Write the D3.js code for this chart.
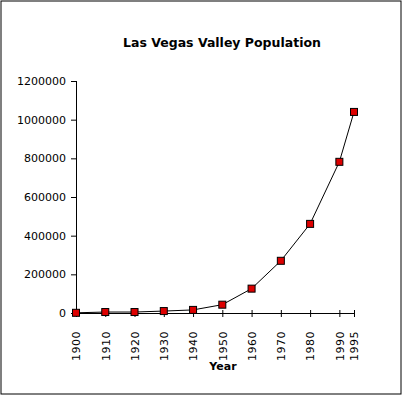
<!DOCTYPE html>
<html>
<head>
<meta charset="utf-8">
<script src="https://cdn.jsdelivr.net/npm/d3@7"></script>
<style>
  body { margin: 0; background: #fff; }
  text { font-family: "DejaVu Sans", sans-serif; fill: #000; }
</style>
</head>
<body>
<div id="chart"></div>
<script>
var years = [1900, 1910, 1920, 1930, 1940, 1950, 1960, 1970, 1980, 1990, 1995];
var population = [1000, 5000, 5000, 10000, 16000, 43000, 126000, 270000, 461000, 782000, 1040000];
var xTicks = [1900, 1910, 1920, 1930, 1940, 1950, 1960, 1970, 1980, 1990, 1995];
var yTicks = [0, 200000, 400000, 600000, 800000, 1000000, 1200000];

var W = 404, H = 397;
var margin = {top: 81, right: 50, bottom: 84, left: 76};
var width = 354 - margin.left;
var height = 313 - margin.top;

var svg = d3.select("#chart").append("svg")
    .attr("width", W)
    .attr("height", H);

svg.append("rect")
    .attr("x", 1).attr("y", 1)
    .attr("width", 400).attr("height", 393)
    .attr("fill", "none")
    .attr("stroke", "#000")
    .attr("stroke-width", 1);

var x = d3.scaleLinear().domain([1900, 1995]).range([0, width]);
var y = d3.scaleLinear().domain([0, 1200000]).range([height, 0]);

var g = svg.append("g")
    .attr("transform", "translate(" + margin.left + "," + margin.top + ")");

// y axis
var yAxis = g.append("g")
    .call(d3.axisLeft(y).tickValues(yTicks).tickSize(5).tickPadding(5).tickFormat(d3.format("d")));
yAxis.selectAll("path").attr("stroke", "#000");
yAxis.selectAll("line").attr("stroke", "#000");
yAxis.selectAll("text").style("font-size", "11px");
yAxis.select(".domain").attr("d", "M0.5," + height + "V0");

// x axis
var xAxis = g.append("g")
    .attr("transform", "translate(0," + height + ")")
    .call(d3.axisBottom(x).tickValues(xTicks).tickSizeInner(3).tickSizeOuter(0).tickFormat(d3.format("d")));
xAxis.selectAll("line").attr("y1", -3).attr("y2", 4).attr("stroke", "#000");
xAxis.selectAll("path").attr("stroke", "#000");
xAxis.selectAll("text")
    .style("font-size", "11px")
    .style("letter-spacing", "0.5px")
    .attr("transform", "rotate(-90)")
    .attr("text-anchor", "end")
    .attr("x", -18)
    .attr("y", 0)
    .attr("dy", "0.35em");

var line = d3.line()
    .x(function(d, i) { return x(years[i]); })
    .y(function(d) { return y(d); });

g.append("path")
    .datum(population)
    .attr("fill", "none")
    .attr("stroke", "#000")
    .attr("stroke-width", 1)
    .attr("d", line);

g.selectAll(".pt")
    .data(population)
    .enter().append("rect")
    .attr("class", "pt")
    .attr("x", function(d, i) { return x(years[i]) - 3.5; })
    .attr("y", function(d) { return y(d) - 3.5; })
    .attr("width", 7)
    .attr("height", 7)
    .attr("fill", "#dd0000")
    .attr("stroke", "#000")
    .attr("stroke-width", 1);

svg.append("text")
    .attr("x", 222)
    .attr("y", 47)
    .attr("text-anchor", "middle")
    .style("font-size", "12.5px")
    .style("font-weight", "bold")
    .text("Las Vegas Valley Population");

svg.append("text")
    .attr("x", 223)
    .attr("y", 370)
    .attr("text-anchor", "middle")
    .style("font-size", "11px")
    .style("font-weight", "bold")
    .text("Year");
</script>
</body>
</html>
